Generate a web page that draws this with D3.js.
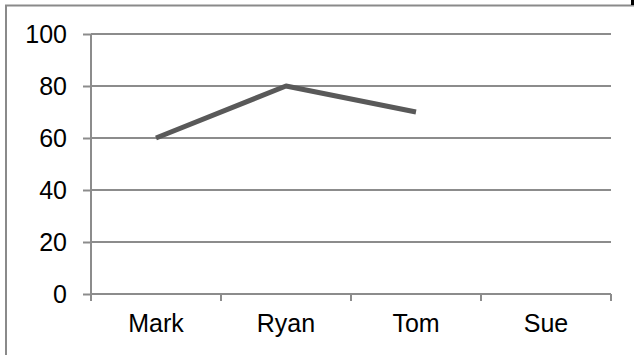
<!DOCTYPE html>
<html><head><meta charset="utf-8">
<script src="https://cdn.jsdelivr.net/npm/d3@7"></script>
<style>html,body{margin:0;padding:0;background:#fff;overflow:hidden}</style>
</head><body>
<svg id="c" width="634" height="355"></svg>
<script>
const categories = ["Mark", "Ryan", "Tom", "Sue"];
const values = [60, 80, 70, null];
const yTicks = [0, 20, 40, 60, 80, 100];

const svg = d3.select("#c");
const mLeft = 91, mRight = 611, mTop = 34, mBottom = 294;
const font = "'Liberation Sans', Arial, sans-serif";

// outer border (extends past right/bottom edge)
svg.append("rect").attr("x", 6).attr("y", 5.5).attr("width", 660).attr("height", 400)
  .attr("fill", "none").attr("stroke", "#8a8a8a").attr("stroke-width", 2);
svg.append("rect").attr("x", 631).attr("y", 0).attr("width", 3).attr("height", 5).attr("fill", "#000");

const x = d3.scaleBand().domain(categories).range([mLeft, mRight]);
const y = d3.scaleLinear().domain([0, 100]).range([mBottom, mTop]);

// gridlines
svg.append("g").selectAll("line").data(yTicks.filter(d => d > 0)).join("line")
  .attr("x1", mLeft).attr("x2", mRight)
  .attr("y1", d => y(d)).attr("y2", d => y(d))
  .attr("stroke", "#8c8c8c").attr("stroke-width", 2);

// y axis
const yAxis = svg.append("g").attr("transform", `translate(${mLeft},0)`)
  .call(d3.axisLeft(y).tickValues(yTicks).tickSize(8).tickPadding(16));
yAxis.select(".domain").attr("stroke", "#8c8c8c").attr("stroke-width", 2)
  .attr("d", `M0,${mTop}V${mBottom}`);
yAxis.selectAll(".tick line").attr("stroke", "#8c8c8c").attr("stroke-width", 2);
yAxis.selectAll(".tick text").attr("fill", "#000").attr("font-size", 25).attr("font-family", font);

// x axis
const xAxis = svg.append("g").attr("transform", `translate(0,${mBottom})`)
  .call(d3.axisBottom(x).tickSize(0).tickPadding(20));
xAxis.select(".domain").attr("stroke", "#8c8c8c").attr("stroke-width", 2).attr("d", `M${mLeft},0H${mRight}`);
xAxis.selectAll(".tick text").attr("fill", "#000").attr("font-size", 25).attr("font-family", font);
const bounds = [...categories.map(c => x(c)), x(categories[categories.length - 1]) + x.bandwidth()];
svg.append("g").selectAll("line").data(bounds).join("line")
  .attr("x1", d => d).attr("x2", d => d).attr("y1", mBottom).attr("y2", mBottom + 7)
  .attr("stroke", "#8c8c8c").attr("stroke-width", 2);

// line
const line = d3.line()
  .defined(d => d.v != null)
  .x(d => x(d.c) + x.bandwidth() / 2)
  .y(d => y(d.v));
svg.append("path").datum(categories.map((c, i) => ({c, v: values[i]})))
  .attr("d", line).attr("fill", "none").attr("stroke", "#595959")
  .attr("stroke-width", 5).attr("stroke-linejoin", "round").attr("stroke-linecap", "butt");
</script>
</body></html>
